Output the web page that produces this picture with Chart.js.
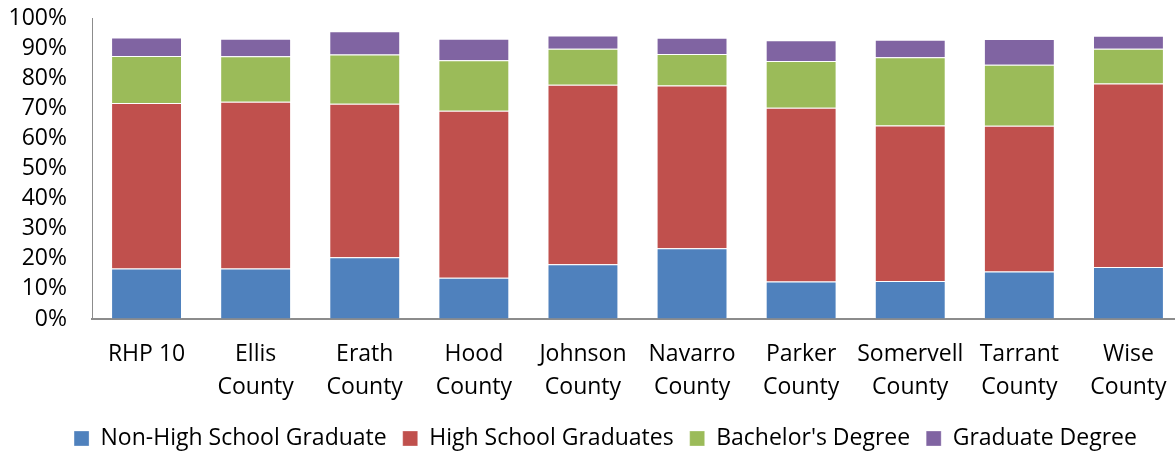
<!DOCTYPE html>
<html>
<head>
<meta charset="utf-8">
<script src="https://cdn.jsdelivr.net/npm/chart.js"></script>
<style>
    html, body { margin: 0; padding: 0; overflow: hidden; background: #fff; }
    #wrap { width: 1183px; height: 453px; }
</style>
</head>
<body>
<div id="wrap"><canvas id="grafico" width="1183" height="453"></canvas></div>
<script>
// Dados (percentual da população por escolaridade)
const categories = [
    ['RHP 10'], ['Ellis', 'County'], ['Erath', 'County'], ['Hood', 'County'],
    ['Johnson', 'County'], ['Navarro', 'County'], ['Parker', 'County'],
    ['Somervell', 'County'], ['Tarrant', 'County'], ['Wise', 'County']
];
const nonHighSchool = [16.8, 16.8, 20.5, 13.7, 18.2, 23.5, 12.5, 12.6, 15.8, 17.3];
const highSchool = [55.0, 55.4, 51.0, 55.5, 59.6, 54.1, 57.7, 51.7, 48.4, 60.9];
const bachelors = [15.6, 15.1, 16.4, 16.8, 12.0, 10.4, 15.5, 22.7, 20.3, 11.6];
const graduate = [6.1, 5.8, 7.7, 7.1, 4.4, 5.4, 6.9, 5.8, 8.5, 4.3];
const yTicks = [0, 10, 20, 30, 40, 50, 60, 70, 80, 90, 100];

const fonte = { family: '"Open Sans", sans-serif', size: 23 };

function serie(label, data, cor) {
    return {
        label: label,
        data: data,
        backgroundColor: cor,
        borderColor: 'rgba(255, 255, 255, 0.3)',
        borderWidth: 1,
        barPercentage: 0.65,
        categoryPercentage: 1
    };
}

// Desloca a legenda para a posição do original (centrada um pouco à direita e mais abaixo)
const ajusteLegenda = {
    id: 'ajusteLegenda',
    afterLayout(chart) {
        chart.legend.left = 28;
        chart.legend.top += 7;
    }
};

new Chart(document.getElementById('grafico').getContext('2d'), {
    type: 'bar',
    data: {
        labels: categories,
        datasets: [
            serie('Non-High School Graduate', nonHighSchool, '#4F81BD'),
            serie('High School Graduates', highSchool, '#C0504D'),
            serie("Bachelor's Degree", bachelors, '#9BBB59'),
            serie('Graduate Degree', graduate, '#8064A2')
        ]
    },
    plugins: [ajusteLegenda],
    options: {
        responsive: false,
        animation: false,
        layout: { padding: { left: 0, top: 18, right: 0, bottom: 0 } },
        plugins: {
            tooltip: { enabled: false },
            legend: {
                position: 'bottom',
                labels: {
                    boxWidth: 15,
                    boxHeight: 15,
                    padding: 16,
                    color: '#000',
                    font: fonte
                }
            }
        },
        scales: {
            x: {
                stacked: true,
                // marcas invisíveis só para afastar os rótulos do eixo
                grid: { drawOnChartArea: false, drawTicks: true, tickLength: 19, tickColor: 'rgba(0,0,0,0)' },
                border: { display: true, color: '#8c8c8c', width: 2 },
                ticks: {
                    color: '#000',
                    padding: 0,
                    maxRotation: 0,
                    autoSkip: false,
                    font: { family: fonte.family, size: 23, lineHeight: 1.42 }
                },
                afterFit: scale => { scale.height = 85; }
            },
            y: {
                stacked: true,
                min: 0,
                max: 100,
                grid: { drawOnChartArea: false, drawTicks: true, tickLength: 25, tickColor: 'rgba(0,0,0,0)' },
                border: { display: true, color: '#8c8c8c', width: 1 },
                afterBuildTicks: scale => {
                    scale.ticks = yTicks.map(v => ({ value: v }));
                },
                ticks: {
                    color: '#000',
                    padding: 0,
                    autoSkip: false,
                    font: fonte,
                    callback: v => v + '%'
                },
                afterFit: scale => { scale.width = 92; }
            }
        }
    }
});
</script>
</body>
</html>
